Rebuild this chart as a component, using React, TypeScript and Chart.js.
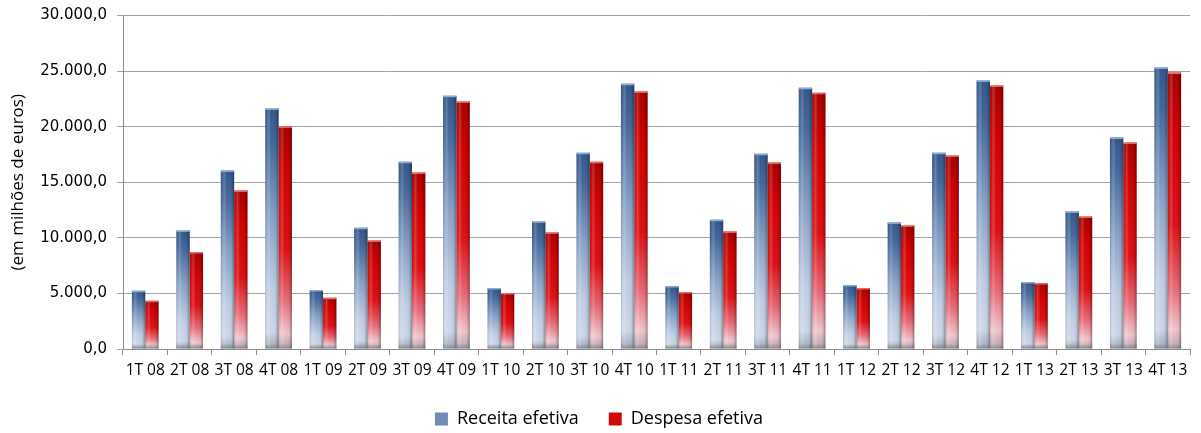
import React, { useEffect, useRef } from 'react';
import { Chart, registerables } from 'chart.js';

Chart.register(...registerables);

const categories = [
  '1T 08', '2T 08', '3T 08', '4T 08',
  '1T 09', '2T 09', '3T 09', '4T 09',
  '1T 10', '2T 10', '3T 10', '4T 10',
  '1T 11', '2T 11', '3T 11', '4T 11',
  '1T 12', '2T 12', '3T 12', '4T 12',
  '1T 13', '2T 13', '3T 13', '4T 13',
];

const receitaEfetiva = [
  5240, 10670, 16060, 21640,
  5310, 10910, 16840, 22780,
  5490, 11480, 17650, 23860,
  5670, 11630, 17560, 23500,
  5760, 11390, 17650, 24160,
  6030, 12370, 19030, 25320,
];

const despesaEfetiva = [
  4340, 8720, 14260, 20020,
  4610, 9770, 15880, 22270,
  5040, 10490, 16840, 23170,
  5130, 10580, 16780, 23050,
  5490, 11120, 17410, 23710,
  5940, 11920, 18580, 24870,
];

const seriesNames = ['Receita efetiva', 'Despesa efetiva'];
const yAxisTitle = '(em milhões de euros)';
const yMin = 0;
const yMax = 30000;
const yStep = 5000;

function formatPt(v: number): string {
  const s = Math.round(v).toString().replace(/\B(?=(\d{3})+(?!\d))/g, '.');
  return s + ',0';
}

const blueStops: [number, string][] = [
  [0, '#34578a'],
  [0.15, '#44679a'],
  [0.45, '#87a0c5'],
  [0.75, '#c0cde3'],
  [0.93, '#cdd7e8'],
  [1, '#9ea7b6'],
];
const redStops: [number, string][] = [
  [0, '#a80000'],
  [0.2, '#d00000'],
  [0.55, '#dc1014'],
  [0.78, '#e66a78'],
  [0.93, '#f0c6ce'],
  [1, '#b3a3aa'],
];
const legendColors = ['#6f8cb6', '#cf0a0a'];

function barGradient(stops: [number, string][], solid: string) {
  return (ctx: any) => {
    if (ctx.type !== 'data') return solid;
    const chart = ctx.chart;
    const y = chart.scales && chart.scales.y;
    if (!chart.chartArea || !y) return solid;
    const top = y.getPixelForValue(ctx.raw);
    const bottom = y.getPixelForValue(0);
    if (!isFinite(top) || !isFinite(bottom) || bottom - top < 1) return solid;
    const g = chart.ctx.createLinearGradient(0, top, 0, bottom);
    stops.forEach(([o, c]) => g.addColorStop(o, c));
    return g;
  };
}

const barShading = {
  id: 'barShading',
  afterDatasetsDraw(chart: any) {
    const c = chart.ctx as CanvasRenderingContext2D;
    chart.data.datasets.forEach((_ds: any, i: number) => {
      const meta = chart.getDatasetMeta(i);
      meta.data.forEach((el: any) => {
        const { x, y, base, width } = el.getProps(['x', 'y', 'base', 'width'], true);
        const l = x - width / 2;
        const h = base - y;
        if (h <= 0) return;
        c.save();
        const g = c.createLinearGradient(l, 0, l + width, 0);
        g.addColorStop(0, 'rgba(0,0,0,0.18)');
        g.addColorStop(0.12, 'rgba(255,255,255,0.05)');
        g.addColorStop(0.25, 'rgba(255,255,255,0.2)');
        g.addColorStop(0.45, 'rgba(255,255,255,0)');
        g.addColorStop(0.8, 'rgba(0,0,0,0.06)');
        g.addColorStop(1, 'rgba(0,0,0,0.35)');
        c.fillStyle = g;
        c.fillRect(l, y, width, h);
        c.fillStyle = i === 0 ? 'rgba(150,180,225,0.9)' : 'rgba(245,130,130,0.8)';
        c.fillRect(l, y, width, 1.5);
        const bh = Math.min(5, h);
        const bg = c.createLinearGradient(0, base - bh, 0, base);
        bg.addColorStop(0, 'rgba(120,120,130,0)');
        bg.addColorStop(1, 'rgba(100,100,110,0.5)');
        c.fillStyle = bg;
        c.fillRect(l, base - bh, width, bh);
        c.restore();
      });
    });
  },
};

export default function App() {
  const canvasRef = useRef<HTMLCanvasElement | null>(null);

  useEffect(() => {
    document.body.style.margin = '0';
    const canvas = canvasRef.current;
    if (!canvas) return;
    const chart = new Chart(canvas, {
      type: 'bar',
      data: {
        labels: categories,
        datasets: [
          {
            label: seriesNames[0],
            data: receitaEfetiva,
            backgroundColor: barGradient(blueStops, legendColors[0]),
            borderWidth: 0,
            categoryPercentage: 0.6,
            barPercentage: 1.0,
          },
          {
            label: seriesNames[1],
            data: despesaEfetiva,
            backgroundColor: barGradient(redStops, legendColors[1]),
            borderWidth: 0,
            categoryPercentage: 0.6,
            barPercentage: 1.0,
          },
        ],
      },
      options: {
        responsive: true,
        maintainAspectRatio: false,
        animation: false,
        layout: { padding: { top: 15.5, left: 8, right: 11, bottom: -5 } },
        plugins: {
          tooltip: { enabled: false },
          legend: {
            position: 'bottom',
            labels: {
              boxWidth: 13,
              boxHeight: 13,
              padding: 30,
              color: '#000',
              font: { family: 'Open Sans', size: 18 },
              generateLabels: (ch: any) => {
                const items = Chart.defaults.plugins.legend.labels.generateLabels(ch);
                items.forEach((it: any, idx: number) => {
                  it.fillStyle = legendColors[idx];
                  it.strokeStyle = legendColors[idx];
                  it.lineWidth = 0;
                });
                return items;
              },
            },
          },
        },
        scales: {
          x: {
            afterFit: (s: any) => {
              s.height = 31;
            },
            grid: {
              drawOnChartArea: false,
              drawTicks: true,
              tickLength: 6,
              color: '#8c8c8c',
              offset: true,
            },
            border: { color: '#8c8c8c' },
            ticks: {
              color: '#000',
              font: { family: 'Open Sans', size: 15.5 },
              maxRotation: 0,
              minRotation: 0,
              autoSkip: false,
              padding: 6,
            },
          },
          y: {
            min: yMin,
            max: yMax,
            afterFit: (s: any) => {
              s.width = 115;
              s.paddingTop = 0;
              s.paddingBottom = 0;
            },
            ticks: {
              stepSize: yStep,
              color: '#000',
              font: { family: 'DejaVu Sans', size: 15 },
              padding: 10,
              callback: (v: any) => formatPt(Number(v)),
            },
            grid: { color: '#a3a3a3', tickLength: 6 },
            border: { color: '#8c8c8c' },
            title: {
              display: true,
              text: yAxisTitle,
              color: '#000',
              font: { family: 'Open Sans', size: 17 },
              padding: 0,
            },
          },
        },
      },
      plugins: [barShading],
    });
    return () => chart.destroy();
  }, []);

  return (
    <div style={{ position: 'relative', width: '1201px', height: '433px' }}>
      <canvas ref={canvasRef} />
    </div>
  );
}
